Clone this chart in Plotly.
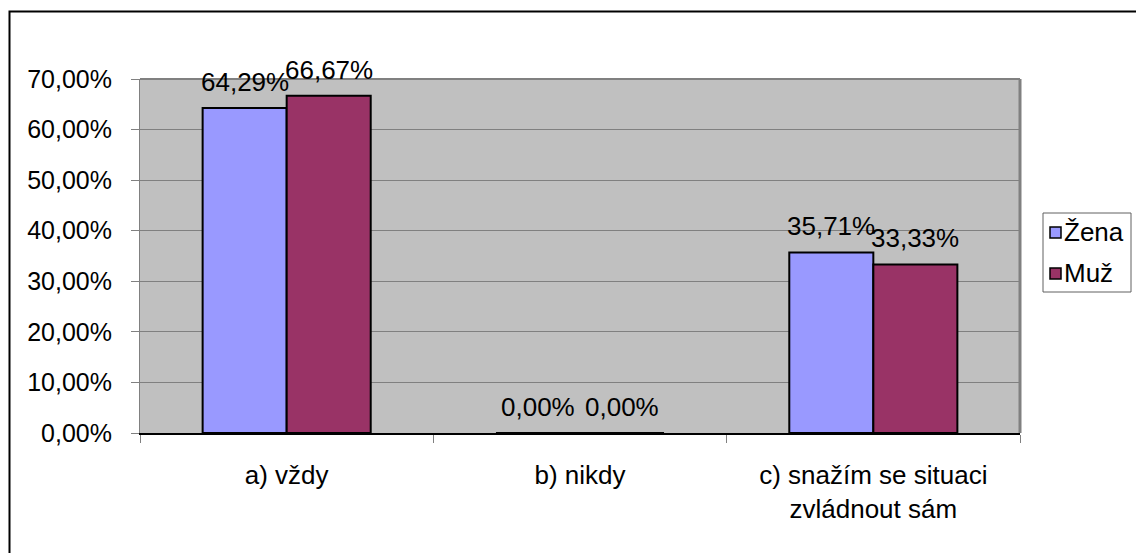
import plotly.graph_objects as go

# Survey answers by gender
categories = ["a) vždy", "b) nikdy", "c) snažím se situaci<br>zvládnout sám"]
series_names = ["Žena", "Muž"]
zena = [0.6429, 0.0, 0.3571]
muz = [0.6667, 0.0, 0.3333]
y_ticks = [0, 0.1, 0.2, 0.3, 0.4, 0.5, 0.6, 0.7]

colors = ["#9999FF", "#993366"]

W, H = 1136, 553
L, R, T, B = 140, 1020, 79, 433


def px_x(px):
    return (px - L) / (R - L)


def px_y(py):
    return (B - py) / (B - T)


font_family = "Liberation Sans, Arial, sans-serif"
big_font = dict(family=font_family, size=26, color="black")

fig = go.Figure()
for name, vals, color in zip(series_names, [zena, muz], colors):
    fig.add_trace(go.Bar(
        name=name, x=categories, y=vals,
        marker=dict(color=color, line=dict(color="black", width=2)),
        showlegend=False,
    ))

# value labels above each bar
annotations = []
for vals, shift in [(zena, -42), (muz, 42)]:
    for cat, v in zip(categories, vals):
        annotations.append(dict(
            x=cat, y=v, xref="x", yref="y",
            text=f"{v * 100:.2f}%".replace(".", ","),
            showarrow=False, xanchor="center", yanchor="bottom",
            xshift=shift, yshift=9, font=big_font,
        ))

# legend box with colour keys
legend_shapes = [
    dict(type="rect", xref="paper", yref="paper",
         x0=px_x(1043), x1=px_x(1131), y0=px_y(292), y1=px_y(213),
         line=dict(color="#606060", width=1), fillcolor="white"),
]
for i, (name, color) in enumerate(zip(series_names, colors)):
    cy = 232.5 + i * 41
    legend_shapes.append(dict(
        type="rect", xref="paper", yref="paper",
        x0=px_x(1050), x1=px_x(1061), y0=px_y(cy + 5.5), y1=px_y(cy - 5.5),
        line=dict(color="black", width=1.5), fillcolor=color))
    annotations.append(dict(
        x=px_x(1062), y=px_y(cy - 1), xref="paper", yref="paper",
        text=name, showarrow=False, xanchor="left", yanchor="middle",
        font=big_font))

fig.update_layout(
    width=W, height=H,
    margin=dict(l=L, r=W - R, t=T, b=H - B, pad=0, autoexpand=False),
    paper_bgcolor="white", plot_bgcolor="#C0C0C0",
    separators=", ",
    barmode="group", bargap=0.427, bargroupgap=0,
    font=dict(family=font_family, size=26, color="black"),
    showlegend=False,
    xaxis=dict(
        showgrid=False, showline=True, linecolor="black", linewidth=2,
        ticks="outside", tickson="boundaries", ticklen=8, tickcolor="#808080",
        tickwidth=1, tickfont=dict(family=font_family, size=26),
        ticklabelstandoff=18,
    ),
    yaxis=dict(
        range=[0, 0.7], tickvals=y_ticks, tickformat=".2%",
        showgrid=True, gridcolor="#808080", gridwidth=1,
        showline=True, linecolor="#808080", linewidth=1,
        ticks="outside", ticklen=8, tickcolor="#808080",
        tickfont=dict(family=font_family, size=25),
        ticklabelstandoff=14, zeroline=False,
    ),
    annotations=annotations,
    shapes=[
        # chart frame
        dict(type="rect", xref="paper", yref="paper",
             x0=px_x(9.5), x1=px_x(1145), y0=px_y(565), y1=px_y(11.5),
             line=dict(color="black", width=2), fillcolor="rgba(0,0,0,0)",
             layer="below"),
        # plot area top and right edges
        dict(type="line", xref="paper", yref="paper", x0=0, x1=1, y0=1, y1=1,
             line=dict(color="#808080", width=2)),
        dict(type="line", xref="paper", yref="paper", x0=1, x1=1, y0=0, y1=1,
             line=dict(color="#808080", width=3)),
    ] + legend_shapes,
)

fig.write_html("out.html")
